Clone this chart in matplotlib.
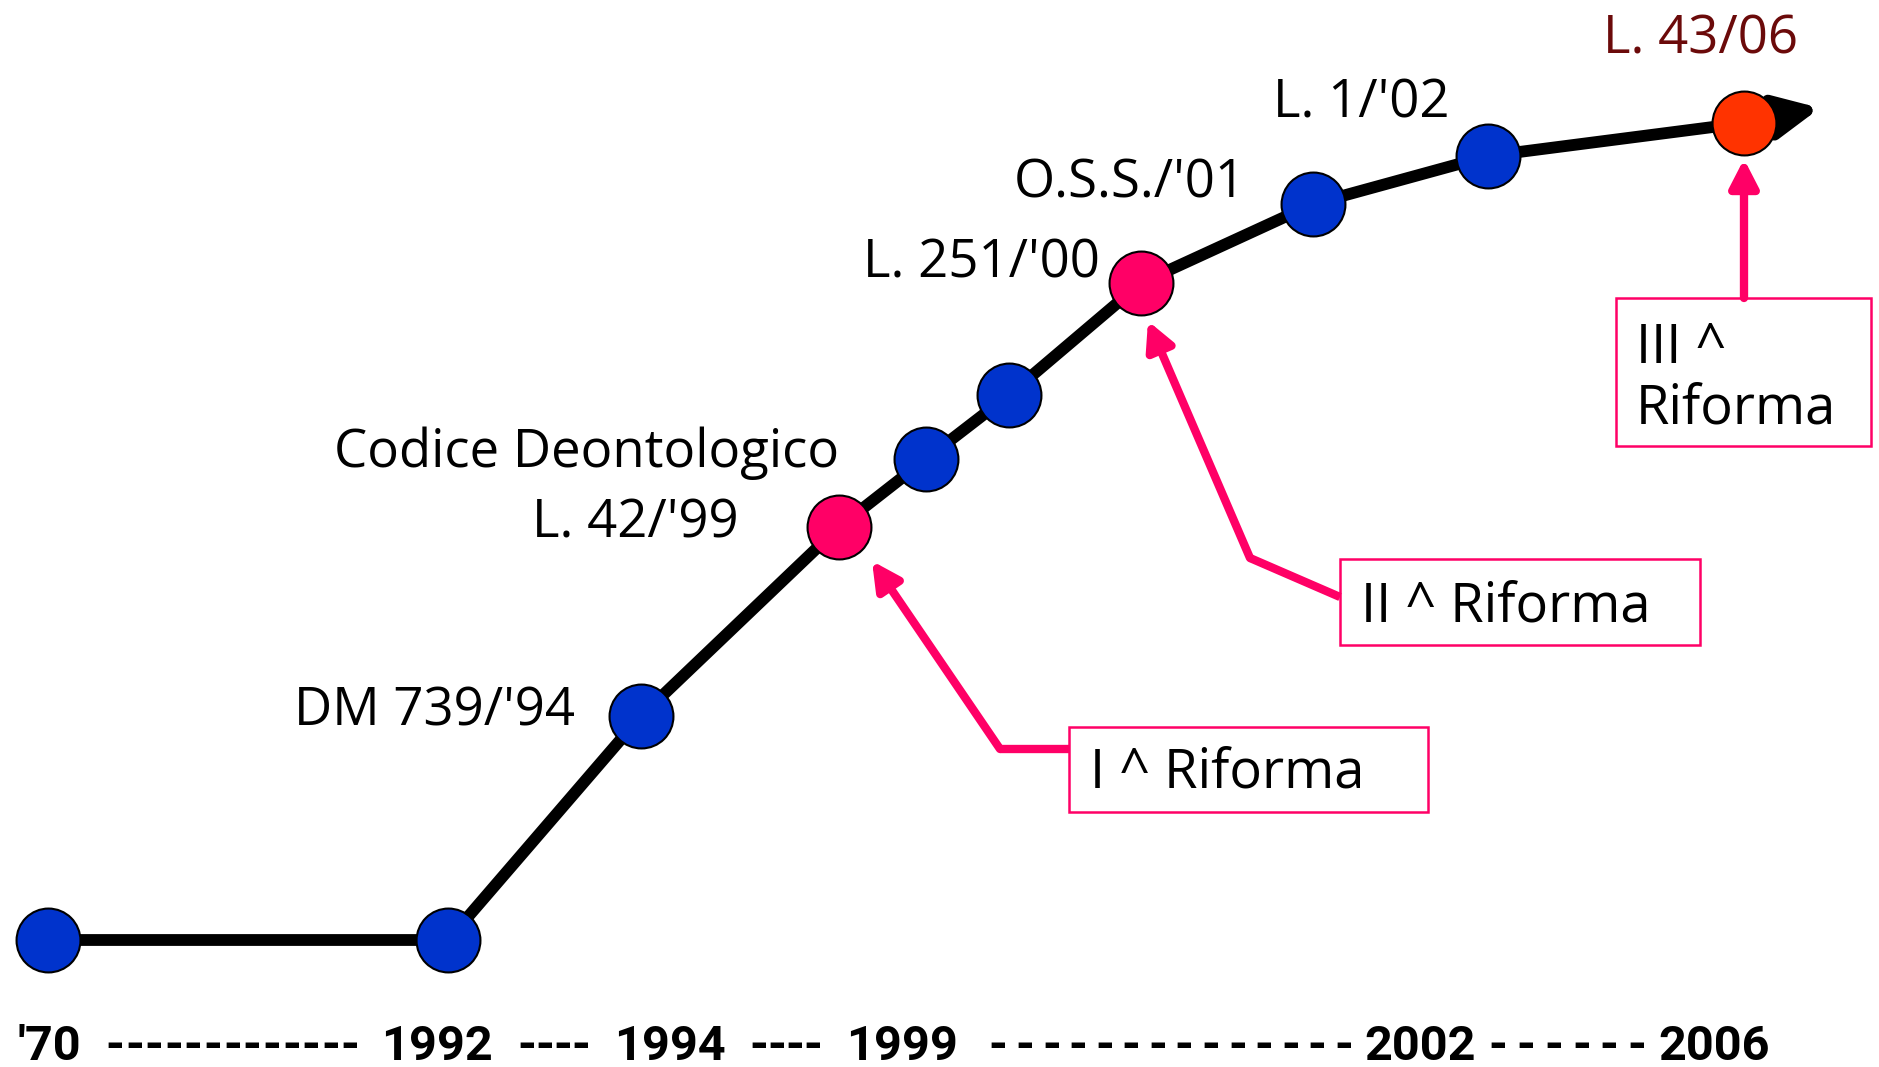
import matplotlib.pyplot as plt
from matplotlib.patches import Rectangle

# timeline points: position along the page and height (pixel-like units)
pos_x = [48, 448, 641, 839, 926, 1009, 1141, 1313, 1488, 1744]
level = [127, 127, 351, 540, 608, 672, 784, 863, 911, 944]
# 0 = ordinary step, 1/2 = riforma, 3 = latest law
kind = [0, 0, 0, 1, 0, 0, 2, 0, 0, 3]
arrow_tip = (1820, 959)

event_labels = ["DM 739/'94", "Codice Deontologico", "L. 42/'99", "L. 251/'00",
                "O.S.S./'01", "L. 1/'02", "L. 43/06"]
reform_labels = ["I ^ Riforma", "II ^ Riforma", "III ^\nRiforma"]
year_labels = ["'70", "1992", "1994", "1999", "2002", "2006"]
dash_counts = [13, 4, 4, 14, 6]

BLUE = '#0033CC'
PINK = '#FF0066'
ORANGE = '#FF3300'
DARKRED = '#6B0A0A'
kind_color = {0: BLUE, 1: PINK, 2: PINK, 3: ORANGE}

label_font = ['Open Sans', 'DejaVu Sans']
year_font = ['Roboto', 'DejaVu Sans']

fig = plt.figure(figsize=(18.79, 10.67), dpi=100)
ax = fig.add_axes([0, 0, 1, 1])
ax.set_xlim(0, 1879)
ax.set_ylim(0, 1067)
ax.axis('off')

# main black line with arrow at the end
ax.plot(pos_x, level, color='black', lw=8.5, solid_capstyle='butt', zorder=2)
ax.annotate('', xy=arrow_tip, xytext=(pos_x[-1], level[-1]),
            arrowprops=dict(arrowstyle='-|>,head_length=2.6,head_width=1.25',
                            color='black', lw=8.5, shrinkA=0, shrinkB=0), zorder=2)

for x, y, k in zip(pos_x, level, kind):
    ax.plot(x, y, 'o', ms=46, mfc=kind_color[k], mec='black', mew=1.5, zorder=4)

# event labels (right aligned, baseline)
label_pos = [(575, 341), (839, 600), (739, 530), (1100, 790),
             (1246, 869), (1450, 950), (1798, 1013)]
for i, (txt, (x, y)) in enumerate(zip(event_labels, label_pos)):
    ax.text(x, y, txt, ha='right', va='baseline', fontsize=38,
            family=label_font, color=DARKRED if i == len(event_labels) - 1 else 'black')

# riforma boxes
boxes = [(1069, 255, 359, 85), (1340, 422, 360, 86), (1616, 621, 255, 148)]
text_pos = [(1090, 279), (1361, 446), (1636, 643)]
for (bx, by, bw, bh), txt, (tx, ty) in zip(boxes, reform_labels, text_pos):
    ax.add_patch(Rectangle((bx, by), bw, bh, fill=False, ec=PINK, lw=1.8, zorder=3))
    ax.text(tx, ty, txt, ha='left', va='baseline', fontsize=39,
            family=label_font, linespacing=1.15)

# pink arrows pointing at the riforma points
head = '-|>,head_length=1.65,head_width=0.85'
# I
i1 = kind.index(1)
tip1 = (pos_x[i1] + 33, level[i1] - 34)
ax.plot([1069, 1000], [318, 318], color=PINK, lw=6, solid_capstyle='butt')
ax.annotate('', xy=tip1, xytext=(1000, 318),
            arrowprops=dict(arrowstyle=head, color=PINK, lw=6, shrinkA=0, shrinkB=0))
# II
i2 = kind.index(2)
tip2 = (pos_x[i2] + 7, level[i2] - 38)
ax.plot([1340, 1250], [470, 509], color=PINK, lw=6, solid_capstyle='butt')
ax.annotate('', xy=tip2, xytext=(1250, 509),
            arrowprops=dict(arrowstyle=head, color=PINK, lw=6, shrinkA=0, shrinkB=0))
# III
i3 = kind.index(3)
tip3 = (pos_x[i3], level[i3] - 36)
ax.annotate('', xy=tip3, xytext=(pos_x[i3], 769),
            arrowprops=dict(arrowstyle=head, color=PINK, lw=6, shrinkA=0, shrinkB=0))

# bottom year scale
year_x = [49, 437, 670, 902, 1420, 1714]
for x, txt in zip(year_x, year_labels):
    ax.text(x, 7, txt, ha='center', va='baseline', fontsize=35,
            fontweight='bold', family=year_font)
# dashes spread evenly over each gap
dash_gaps = [(105, 360), (518, 590), (750, 822), (985, 1357), (1484, 1651)]
for (x0, x1), n in zip(dash_gaps, dash_counts):
    step = (x1 - x0) / n
    for j in range(n):
        ax.text(x0 + step * (j + 0.5), 7, '-', ha='center', va='baseline',
                fontsize=35, fontweight='bold', family=year_font)

fig.savefig('out.png', dpi=100)
